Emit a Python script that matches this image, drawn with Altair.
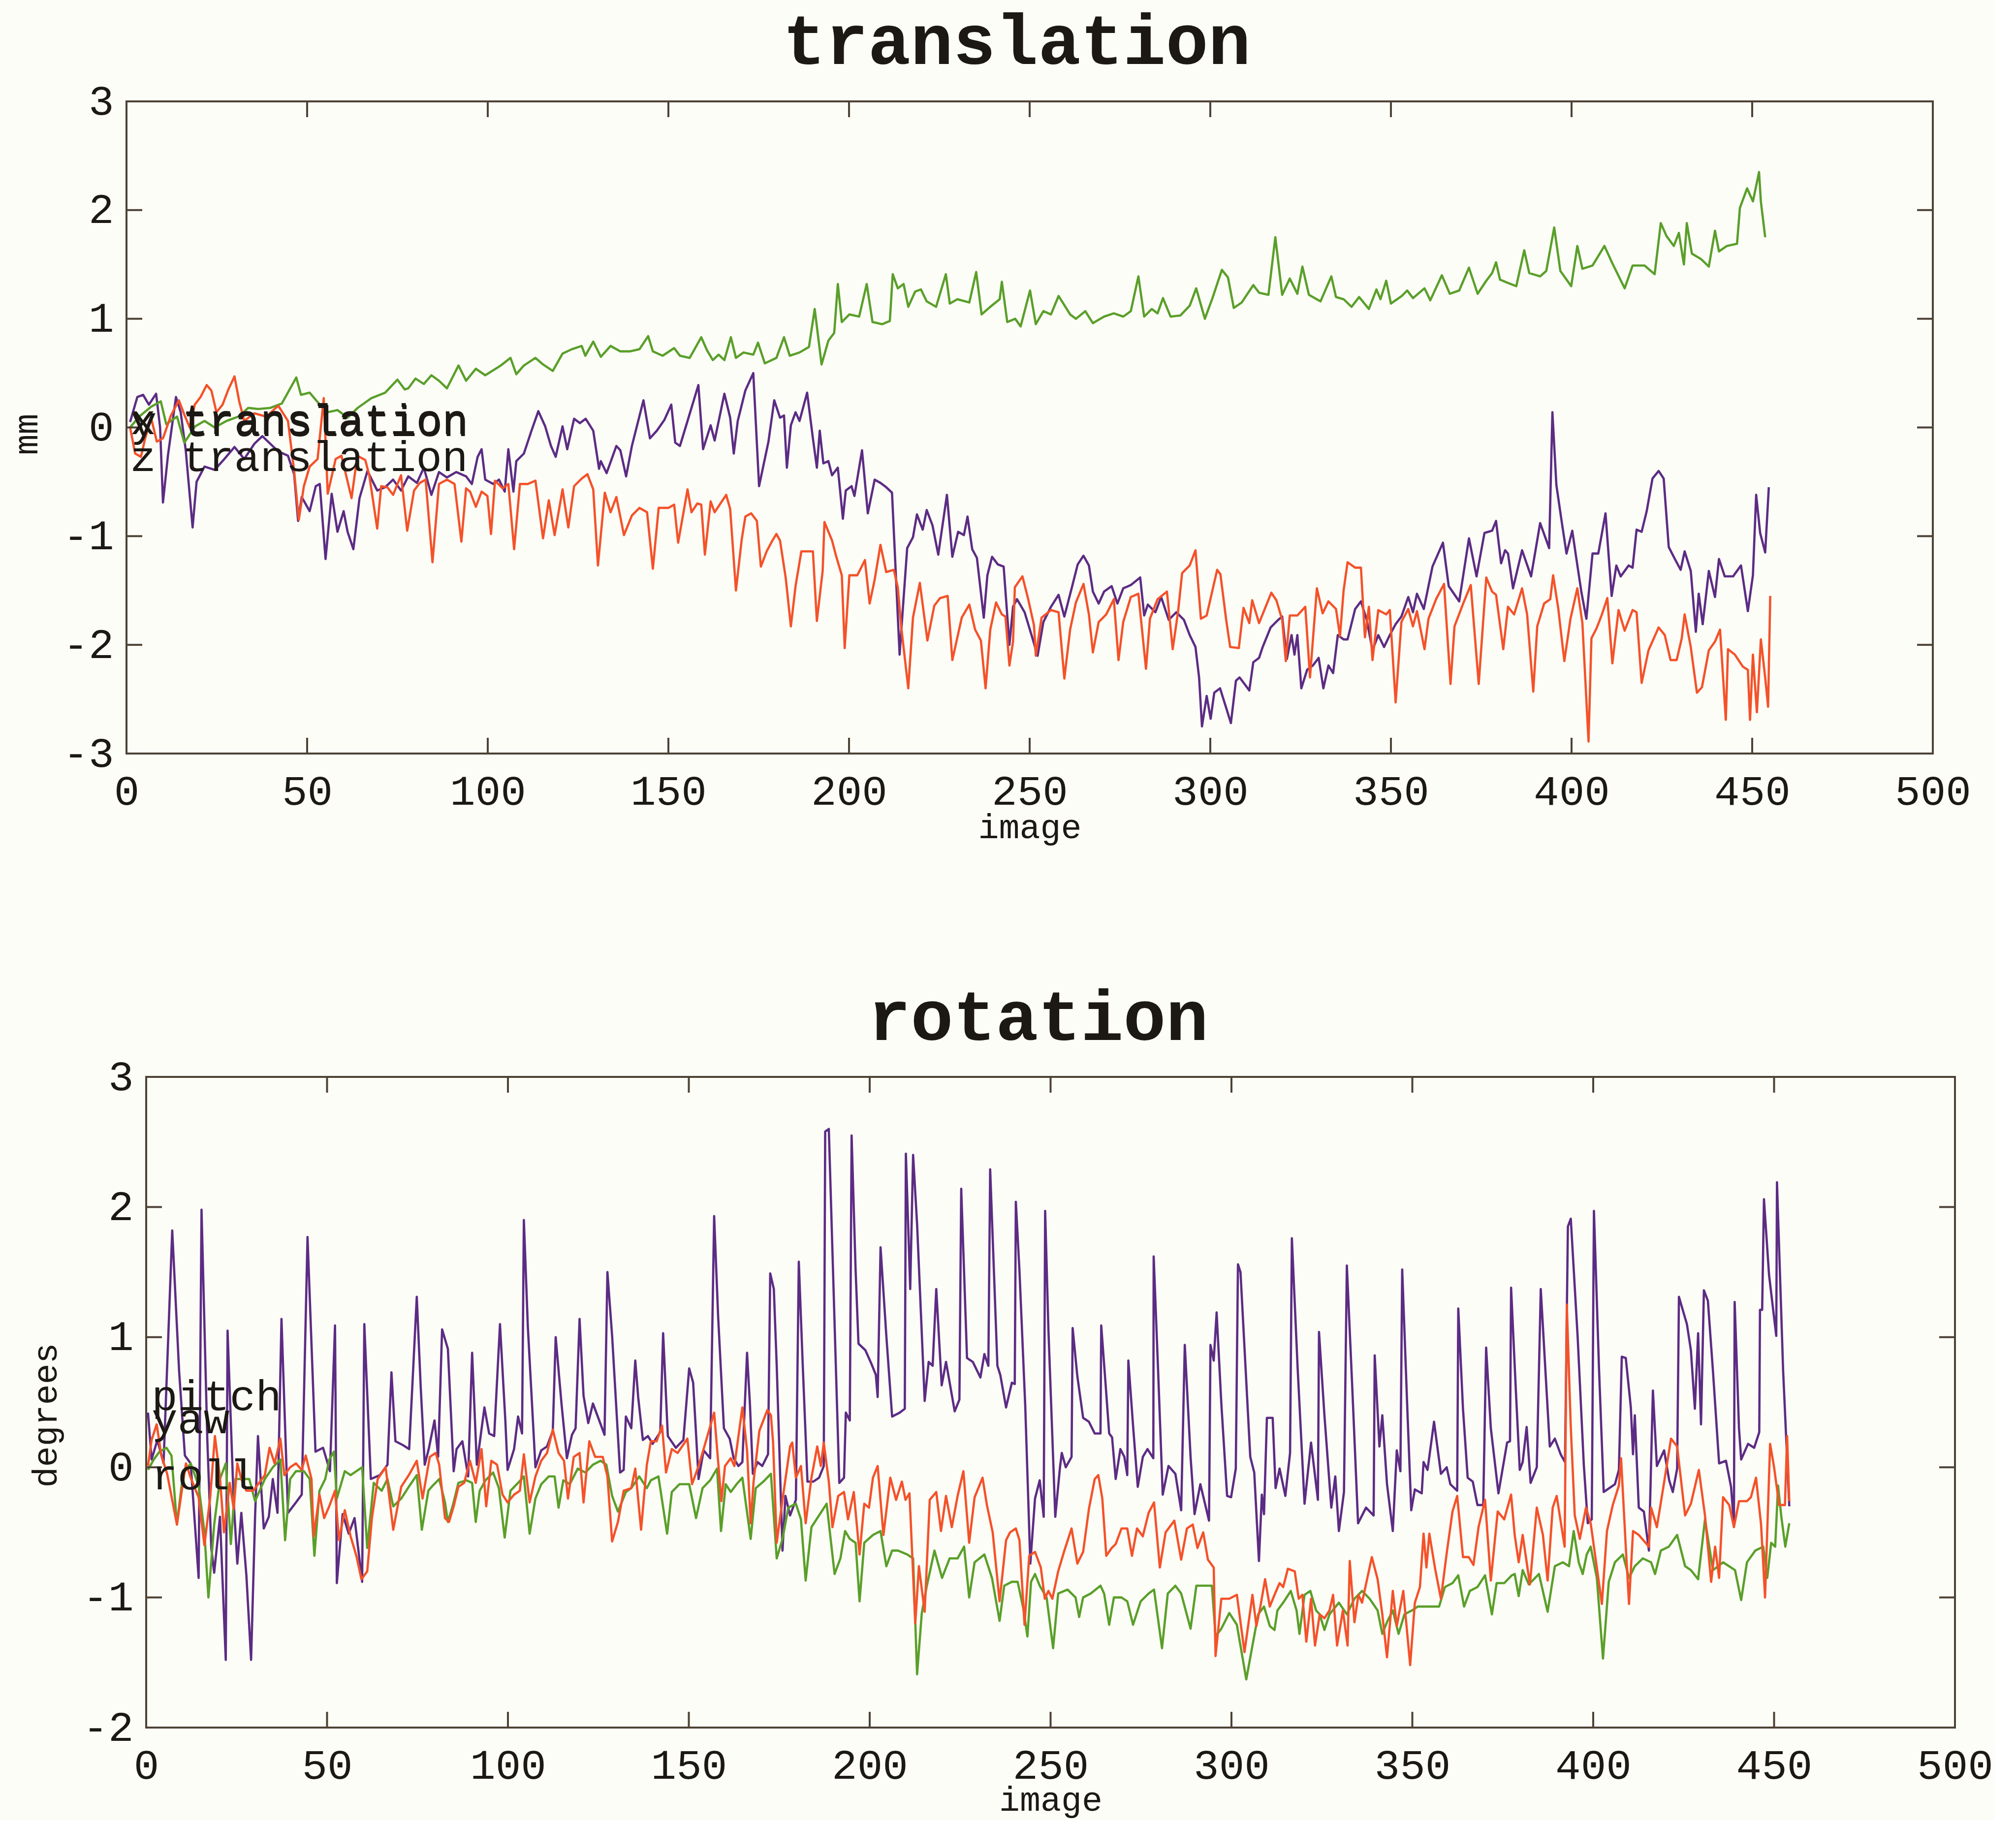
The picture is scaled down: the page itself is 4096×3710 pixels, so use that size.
import altair as alt
import pandas as pd

# ---------------- data ----------------
IMAGE_TICKS = [0, 50, 100, 150, 200, 250, 300, 350, 400, 450, 500]
TRANS_TICKS = [-3, -2, -1, 0, 1, 2, 3]
ROT_TICKS = [-2, -1, 0, 1, 2, 3]

TRANS_NAMES = ["x translation", "y translation", "z translation"]
ROT_NAMES = ["pitch", "yaw", "roll"]

# (image, mm)
X_TRANSLATION = [
(1,0.05),(3,0.28),(4.6,0.30),(6.2,0.21),(8.2,0.31),(9.3,0),(10.1,-0.69),(11.5,-0.25),(13.7,0.28),(15,0.14),(16.4,-0.21),(18.3,-0.92),(19.4,-0.50),(21.6,-0.36),(24.4,-0.39),(27.1,-0.29),(29.9,-0.18),(32.6,-0.29),(35.4,-0.15),(37.6,-0.08),(39.8,-0.15),(42,-0.22),(44.7,-0.26),(46.4,-0.43),(47.5,-0.86),(48.5,-0.64),(50.7,-0.77),(52.4,-0.54),(53.5,-0.52),(55.1,-1.21),(56.8,-0.61),(58.4,-0.96),(60.1,-0.77),(61.2,-0.96),(62.8,-1.12),(64.5,-0.65),(66.7,-0.40),(69.4,-0.58),(71.6,-0.55),(73.8,-0.48),(76,-0.58),
(78,-0.45),(80.4,-0.51),(82.3,-0.37),(84.4,-0.62),(86.5,-0.41),(88.7,-0.46),(91.3,-0.41),(94,-0.45),(95.6,-0.52),(97.2,-0.27),(98.3,-0.20),(99.3,-0.48),(101.5,-0.52),(103.1,-0.48),(104.7,-0.59),(105.7,-0.20),(107.1,-0.59),(107.9,-0.31),(110,-0.24),(112.1,-0.03),(114,0.15),(115.9,0.01),(117.5,-0.17),(118.8,-0.27),(120.7,0.01),(122,-0.20),(123.9,0.08),(125.5,0.04),(127.1,0.08),(129.2,-0.03),(130.8,-0.38),(131.3,-0.31),(132.9,-0.42),(135.6,-0.17),(136.7,-0.21),(138.3,-0.45),(139.9,-0.17),(141.5,0.04),(143.1,0.25),(144.9,-0.10),(146.8,-0.03),(148.9,0.07),(150.8,0.21),(151.9,-0.14),
(153.2,-0.17),(155.3,0.06),(158.3,0.39),(159.6,-0.20),(161.7,0.02),(162.8,-0.12),(165.5,0.31),(167.1,0.09),(168.1,-0.24),(169.2,0.06),(171.3,0.34),(173.5,0.50),(175.1,-0.54),(177.7,-0.13),(179.3,0.25),(180.9,0.09),(182,0.11),(182.8,-0.37),(183.9,0.02),(185.2,0.14),(186.3,0.06),(188.4,0.32),(190,-0.10),(191.1,-0.37),(191.9,-0.03),(192.9,-0.33),(194.3,-0.31),(195.3,-0.44),(196.9,-0.37),(198.3,-0.84),(199.1,-0.58),(200.7,-0.54),(201.5,-0.63),(203.6,-0.21),(205.2,-0.79),(207.1,-0.48),(208.7,-0.51),(210.3,-0.55),(211.9,-0.60),(214,-2.09),(215.3,-1.48),(216.1,-1.11),(217.7,-1.01),(218.8,-0.80),(220.4,-0.94),(221.5,-0.76),(223.1,-0.90),(224.7,-1.17),(227.1,-0.62),
(228.6,-1.19),(230.2,-0.96),(231.8,-0.99),(232.8,-0.82),(234.1,-1.12),(235.4,-1.20),(237.3,-1.75),(238.3,-1.36),(239.6,-1.19),(241.2,-1.26),(242.8,-1.28),(244.4,-2.00),(245.4,-1.65),(246.5,-1.58),(248.6,-1.70),(250.7,-1.93),(252.2,-2.10),(253.8,-1.79),(255.9,-1.65),(258,-1.54),(259.6,-1.74),(261.7,-1.47),(263.3,-1.26),(264.9,-1.18),(266.4,-1.27),(267.5,-1.51),(269.1,-1.62),(270.6,-1.51),(272.7,-1.46),(274.3,-1.62),(275.9,-1.48),(278,-1.45),(280.6,-1.38),(281.7,-1.73),(282.7,-1.63),(284.8,-1.70),(286.4,-1.56),(288.5,-1.77),(290.6,-1.70),(292.7,-1.77),(294.3,-1.91),(295.9,-2.02),(296.9,-2.30),(297.7,-2.75),(299,-2.47),(300.1,-2.68),(301.1,-2.44),(302.7,-2.40),
(304.4,-2.58),(305.7,-2.72),(307.1,-2.33),(308.1,-2.30),(309.7,-2.37),(310.8,-2.42),(311.9,-2.16),(313.5,-2.12),(314.5,-2.02),(316.7,-1.84),(318.8,-1.77),(319.9,-1.74),(321.2,-2.13),(322.5,-1.91),(323.3,-2.09),(324.1,-1.91),(325.2,-2.40),(326.8,-2.23),(328.4,-2.19),(330,-2.12),(331.3,-2.40),(332.7,-2.19),(334,-2.26),(335.3,-1.91),(336.9,-1.95),(338,-1.95),(340.1,-1.67),(341.7,-1.60),(343.3,-1.77),(344.9,-2.05),(346.5,-1.91),(348.1,-2.02),(349.7,-1.91),(351.3,-1.81),(352.9,-1.74),(354.8,-1.56),(356.1,-1.70),(357.2,-1.53),(359.1,-1.67),(361.5,-1.28),(364.4,-1.06),(366,-1.46),(368.9,-1.60),(371.6,-1.02),(373.7,-1.37),(375.9,-0.97),
(378,-0.95),(379.1,-0.86),(380.5,-1.25),(381.6,-1.13),(382.4,-1.16),(383.8,-1.48),(386.3,-1.13),(388.8,-1.37),(391.3,-0.88),(393.8,-1.11),(394.7,0.14),(395.8,-0.53),(397.2,-0.85),(398.6,-1.16),(400.2,-0.95),(401.3,-1.20),(402.7,-1.51),(404.1,-1.76),(405.8,-1.16),(407.4,-1.16),(409.4,-0.79),(411.1,-1.55),(412.4,-1.27),(413.6,-1.37),(415.8,-1.27),(416.9,-1.29),(418,-0.94),(419.4,-0.96),(420.8,-0.77),(422.4,-0.47),(424.1,-0.40),(425.5,-0.47),(426.9,-1.10),(428.6,-1.21),(430.2,-1.31),(431.3,-1.14),(433,-1.32),(434.4,-1.88),(435.2,-1.53),(436.3,-1.81),(438,-1.32),(439.7,-1.56),(440.8,-1.21),(442.4,-1.37),(444.7,-1.37),(446.9,-1.27),(448.8,-1.69),(450.2,-1.36),(451.1,-0.62),(452.2,-0.97),(453.6,-1.15),(454.6,-0.55),
]

Y_TRANSLATION = [
(1,0.0),(3.5,0.1),(6.8,0.19),(9.5,0.24),(11,0.03),(14,0.1),(16,-0.14),(19,0.01),(21.6,0.06),(24.4,0),(27.7,0.06),(31,0.1),(33.7,0.18),(36.5,0.17),(39.8,0.18),(43,0.22),(47,0.46),(48.3,0.3),(50.7,0.32),(53,0.23),(55.7,0.14),(58.4,0.16),(61.2,0.09),(64,0.18),(67.8,0.27),(71.6,0.32),(75,0.44),(77,0.35),
(78,0.36),(80,0.45),(82.3,0.40),(84.4,0.48),(86.5,0.43),(88.7,0.36),(91.9,0.57),(94,0.43),(96.7,0.54),(99.3,0.48),(103.6,0.57),(106.3,0.64),(107.9,0.49),(110,0.57),(113.2,0.64),(115.3,0.58),(118,0.52),(120.7,0.68),(123.3,0.72),(126,0.75),(127,0.66),(129.2,0.79),(131.3,0.65),(134,0.75),(136.7,0.70),(139.3,0.70),(142,0.72),(144.4,0.84),(145.7,0.70),(148.4,0.66),(151.6,0.73),
(153.2,0.66),(155.9,0.64),(159.1,0.83),(160.7,0.71),(162.3,0.62),(163.9,0.67),(165.5,0.62),(167.3,0.83),(168.7,0.64),(170.8,0.69),(173.5,0.67),(174.8,0.78),(176.7,0.59),(179.9,0.64),(182,0.83),(183.6,0.66),(186.3,0.69),(188.9,0.74),(190.5,1.09),(192.4,0.58),(194.3,0.80),(195.9,0.87),(196.9,1.32),(198,0.97),(200.1,1.04),(202.8,1.02),(204.9,1.32),(206.5,0.97),(209.2,0.95),(211.3,0.98),(212.1,1.41),(213.5,1.28),(215.1,1.32),(216.4,1.11),(218.3,1.25),(219.9,1.27),(221.5,1.16),(224.1,1.11),(226.8,1.41),(227.9,1.14),
(230,1.18),(233.3,1.15),(235.2,1.43),(236.7,1.04),(239.1,1.11),(241.7,1.18),(242.3,1.34),(243.8,0.97),(246,1.00),(247.5,0.93),(250.1,1.26),(251.7,0.95),(253.8,1.07),(255.9,1.04),(258,1.21),(261.2,1.04),(262.8,1.00),(265.4,1.07),(267.5,0.96),(270.6,1.02),(273.3,1.05),(275.9,1.02),(278,1.07),(280.1,1.39),(281.7,1.02),(283.8,1.09),(285.4,1.05),(286.9,1.19),(289,1.02),(291.7,1.03),(294.3,1.12),(296.1,1.28),(298.5,1.00),(300.6,1.19),(303.2,1.45),
(304.9,1.38),(306.5,1.10),(308.7,1.15),(311.9,1.31),(313.5,1.24),(316.1,1.22),(318,1.75),(319.9,1.22),(322,1.37),(324.1,1.23),(325.5,1.48),(327.3,1.22),(330.5,1.16),(333.5,1.39),(334.8,1.20),(336.9,1.18),(339.1,1.11),(341.2,1.20),(343.9,1.09),(346,1.27),(347.1,1.18),(348.7,1.35),(350,1.14),(353,1.21),(354.5,1.26),(356.1,1.19),(359.3,1.28),(360.9,1.17),(364.1,1.40),(366.3,1.23),(368.9,1.26),(371.6,1.47),(374,1.23),(376.4,1.35),
(378,1.42),(379.1,1.52),(380.2,1.36),(382.4,1.33),(384.7,1.30),(386.9,1.63),(388.3,1.42),(391.3,1.39),(393,1.44),(395.2,1.84),(396.9,1.44),(399.9,1.30),(401.6,1.67),(403,1.46),(405.8,1.49),(409.1,1.67),(411.3,1.51),(414.7,1.28),(416.9,1.49),(420.2,1.49),(423,1.41),(424.7,1.88),(426.3,1.76),(428.3,1.67),(429.7,1.79),(431.1,1.50),(431.9,1.88),(433.3,1.60),(435.8,1.55),(438,1.48),(439.7,1.81),(440.8,1.62),(443,1.67),(445.8,1.69),(446.6,2.02),(448.6,2.20),(450.2,2.08),(451.9,2.35),(452.4,2.08),(453.6,1.75),
]

Z_TRANSLATION = [
(1,0),(2.4,-0.24),(4,-0.27),(5.1,-0.11),(6.8,0.09),(8.4,-0.13),(10.1,-0.10),(12.3,0.11),(14.5,0.25),(16.1,0.11),(17.5,0),(18.9,0.21),(20.5,0.28),(22.2,0.39),(23.5,0.34),(24.9,0.14),(26.6,0.21),(28.2,0.35),(29.9,0.47),(31.2,0.24),(32.6,0.06),(35.4,0.13),(38.7,0.10),(42,0.20),(44.7,0.06),(46.4,-0.40),(47.7,-0.85),(49.1,-0.54),(50.7,-0.36),(52.9,-0.29),(54.6,0.27),(55.7,-0.61),(57.9,-0.29),(59.5,-0.26),(62.3,-0.65),(63.9,-0.26),(66.1,-0.30),(67.2,-0.44),(69.4,-0.93),(70.5,-0.54),(72.2,-0.55),(73.8,-0.62),(76,-0.44),(77.7,-0.95),
(79.6,-0.58),(81.2,-0.51),(82.8,-0.48),(84.7,-1.24),(86.5,-0.52),(88.7,-0.48),(90.8,-0.52),(92.7,-1.05),(94,-0.56),(95.1,-0.59),(96.7,-0.73),(98.3,-0.59),(99.9,-0.63),(100.9,-0.98),(102,-0.49),(104.1,-0.56),(105.7,-0.52),(107.3,-1.12),(108.9,-0.52),(111.1,-0.52),(113.2,-0.49),(115.3,-1.02),(116.9,-0.67),(118.5,-0.99),(120.7,-0.57),(122.3,-0.92),(123.9,-0.54),(126,-0.47),(127.6,-0.43),(129.2,-0.57),(130.5,-1.27),(132.4,-0.60),(134,-0.78),(135.6,-0.64),(137.7,-0.99),(139.9,-0.81),(142,-0.74),(144.1,-0.78),(145.7,-1.30),(147.3,-0.74),(150,-0.74),(151.6,-0.71),(152.7,-1.06),
(155.3,-0.57),(156.4,-0.78),(158,-0.70),(159.1,-0.71),(160.1,-1.17),(161.7,-0.68),(162.8,-0.78),(166,-0.62),(167.1,-0.75),(168.7,-1.50),(170.3,-1.03),(171.3,-0.82),(172.9,-0.79),(174.5,-0.86),(175.6,-1.28),(177.2,-1.14),(178.8,-1.04),(179.9,-0.98),(180.9,-1.04),(182.5,-1.39),(183.9,-1.83),(185.2,-1.46),(186.8,-1.14),(190,-1.14),(191.1,-1.78),(192.7,-1.32),(193.2,-0.87),(195.3,-1.04),(196.4,-1.18),(198,-1.36),(198.8,-2.03),(200.1,-1.36),(202.3,-1.36),(204.4,-1.22),(205.7,-1.62),(207.1,-1.40),(208.7,-1.08),(210.3,-1.33),(212.4,-1.31),(213.5,-1.47),(214.5,-1.85),(216.4,-2.40),(217.7,-1.75),(219.6,-1.43),(221.7,-1.96),(223.6,-1.64),(225.2,-1.57),(227.3,-1.55),
(228.6,-2.14),(231.2,-1.75),(233.3,-1.63),(234.9,-1.86),(236.5,-1.96),(237.8,-2.40),(239.1,-1.86),(240.7,-1.61),(242.3,-1.72),(243.3,-1.74),(244.4,-2.19),(245.4,-1.97),(245.9,-1.47),(248,-1.37),(249.6,-1.58),(251.2,-1.82),(251.7,-2.10),(253.3,-1.75),(255.9,-1.68),(258,-1.70),(259.6,-2.31),(261.2,-1.86),(262.8,-1.61),(264.9,-1.44),(266.4,-1.72),(267.5,-2.07),(269.1,-1.79),(271.2,-1.72),(273.3,-1.58),(274.6,-2.14),(275.9,-1.79),(278,-1.56),(280.1,-1.53),(282.2,-2.22),(283.3,-1.76),(285.4,-1.58),(288,-1.51),(289.6,-2.04),(291.1,-1.69),(292.2,-1.34),(294.3,-1.27),(295.9,-1.13),(297.4,-1.76),(299,-1.73),(301.9,-1.31),
(302.8,-1.35),(304.4,-1.77),(305.5,-2.02),(307.9,-2.03),(309.2,-1.66),(310.8,-1.80),(311.6,-1.59),(313.5,-1.80),(316.9,-1.52),(318.3,-1.59),(319.9,-1.77),(320.9,-2.15),(322,-1.73),(324.1,-1.73),(326.3,-1.65),(327.6,-2.30),(329.5,-1.48),(331.1,-1.71),(332.7,-1.60),(334.8,-1.67),(335.9,-1.92),(336.9,-1.50),(338,-1.24),(340.1,-1.29),(341.7,-1.29),(342.8,-1.93),(343.9,-1.65),(344.9,-2.14),(346.5,-1.68),(348.7,-1.72),(349.7,-1.68),(351.3,-2.53),(352.9,-1.79),(354.8,-1.67),(356.1,-1.83),(357.2,-1.69),(359.3,-2.04),(360.4,-1.76),(362.5,-1.58),(364.7,-1.44),(366.5,-2.36),(367.6,-1.83),(370,-1.62),(372.1,-1.45),(374.3,-2.36),(376.4,-1.38),
(378,-1.51),(379.1,-1.54),(381.1,-2.04),(382.4,-1.65),(384.1,-1.72),(386.3,-1.48),(387.7,-1.72),(389.4,-2.43),(390.5,-1.83),(392.4,-1.62),(394.1,-1.58),(394.9,-1.36),(396.3,-1.66),(398,-2.15),(399.7,-1.76),(401.6,-1.48),(403,-1.80),(404.7,-2.89),(405.5,-1.94),(406.9,-1.85),(408.3,-1.73),(409.9,-1.57),(411.3,-2.17),(413,-1.68),(414.7,-1.87),(416.9,-1.68),(418,-1.70),(419.4,-2.35),(421.3,-2.05),(424.1,-1.84),(425.8,-1.91),(427.4,-2.14),(429.1,-2.14),(430.5,-1.94),(431.3,-1.72),(433,-2.02),(434.7,-2.44),(436.1,-2.39),(438,-2.05),(439.7,-1.97),(441.1,-1.86),(442.7,-2.69),(443.3,-2.04),(445.2,-2.09),(447.4,-2.20),(448.8,-2.23),(449.4,-2.69),(450.2,-2.09),(451.3,-2.62),(452.4,-1.95),(453.6,-2.30),(454.4,-2.57),(455,-1.55),
]

# (image, degrees)
PITCH = [
(0.5,0.42),(1.5,0.06),(3.1,0.21),(4.8,0.03),(7.2,1.82),(9.1,0.74),(10.7,0.09),(12.3,0.03),(14.5,-0.85),(15.3,1.98),(16.9,0.21),(18,-0.62),(18.8,-0.81),(20.4,-0.38),(22,-1.48),(22.5,1.05),(24.2,-0.27),(25.2,-0.74),(26.3,-0.35),(27.7,-0.83),(29,-1.48),(30.1,-0.38),(30.9,0.24),(32.5,-0.47),(33.9,-0.38),(35,-0.09),(36.3,-0.35),(37.4,1.14),(39.2,-0.35),(41.4,-0.27),(43,-0.21),(44.6,1.77),(46.8,0.12),(48.9,0.15),(50.8,-0.03),(52.2,1.09),(52.7,-0.89),(54.3,-0.36),(56,-0.51),(57.6,-0.39),(59.7,-0.88),(60.3,1.10),(62.1,-0.09),(64.6,-0.06),(66.7,0.02),(67.8,0.73),(68.9,0.20),(71,0.17),(72.7,0.14),(74.8,1.31),(75.9,0.61),(77,0.02),(78.1,0.14),(79.7,0.36),(80.7,0.08),(81.8,1.06),
(83.4,0.91),(85,-0.03),(85.8,0.14),(87.4,0.20),(89,-0.07),(90.1,0.88),(91.4,0.02),(93.5,0.46),(94.8,0.26),(96.2,0.24),(97.8,1.10),(99.3,0.35),(99.9,-0.02),(101.7,0.14),(102.8,0.39),(103.9,0.26),(104.4,1.90),(105.5,1.08),(107.6,0.00),(109.2,0.13),(110.8,0.16),(112.4,0.28),(113.2,1.00),(114.8,0.49),(116.3,0.07),(117.7,0.25),(118.7,0.30),(119.8,1.14),(120.9,0.55),(122.2,0.34),(123.5,0.49),(125.1,0.37),(126.7,0.25),(127.5,1.50),(128.8,1.01),(131,-0.04),(132,-0.02),(132.6,0.39),(134.1,0.30),(135.2,0.82),(136,0.54),(137.3,0.21),(138.7,0.24),(140,0.18),(142.1,0.27),(142.9,1.03),(144.2,0.24),(146.4,0.15),(148.5,0.21),(150.1,0.76),(151.2,0.65),(152.7,-0.09),(154.1,0.13),(155.9,0.07),(157,1.93),(158.1,1.16),
(159.7,0.30),(161.3,0.22),(162.4,0.07),(163.7,0.01),(164.8,0.04),(166.1,0.88),(166.9,0.48),(167.7,-0.05),(169,0.04),(170.3,0.01),(171.9,0.10),(172.5,1.49),(173.5,1.37),(174.3,0.78),(175.9,-0.64),(176.7,-0.22),(178,-0.37),(179.6,-0.25),(180.4,1.58),(181.5,0.78),(182.8,-0.11),(184.4,-0.11),(186,-0.08),(187.3,0.01),(187.7,2.58),(188.7,2.60),(191.6,-0.12),(192.9,-0.08),(193.4,0.42),(194.5,0.36),(195,2.55),(196.1,1.52),(196.9,0.95),(198.8,0.90),(200.4,0.80),(201.7,0.71),(202.2,0.54),(203,1.69),(204.6,1.01),(206.2,0.39),(208.3,0.42),(209.7,0.45),(210,2.41),(211.2,1.37),(212,2.40),(213.1,1.87),(215.2,0.51),(216.3,0.81),(217.4,0.78),(218.4,1.37),(219.9,0.63),(221.1,0.81),(223.5,0.43),(224.8,0.52),(225.3,2.14),(226.9,0.84),(228.5,0.81),(230.6,0.69),(231.7,0.87),(232.8,0.78),(233.3,2.29),(235.3,0.78),
(236.1,0.71),(237.7,0.46),(239.3,0.65),(240.1,0.64),(240.4,2.04),(241.4,1.51),(243,0.47),(244.4,-0.74),(245.7,-0.24),(247,-0.10),(248.1,-0.38),(248.5,1.97),(249.4,1.06),(251.3,-0.38),(252.6,0.00),(253.1,0.11),(254.2,0.00),(255.8,0.08),(256.1,1.07),(257.4,0.70),(259,0.38),(260.6,0.35),(262.2,0.26),(263.8,0.26),(264,1.09),(265.1,0.68),(266.2,0.26),(267,0.23),(268,-0.09),(269.3,0.14),(270.4,0.08),(271.2,-0.06),(271.5,0.82),(272.8,0.32),(274.1,-0.15),(275.5,0.08),(276.8,0.14),(278.4,0.07),(278.5,1.62),(279.7,0.76),(281,-0.21),(282.6,0.01),(284.5,-0.05),(286.1,-0.33),(287.1,0.94),(288.7,0.08),(289.8,-0.36),(291.4,-0.13),(293.8,-0.41),(294.2,0.94),(295.1,0.82),(295.9,1.19),(297.2,0.49),(298.8,-0.22),(299.9,-0.23),(301.2,-0.01),(301.8,1.56),(302.5,1.50),(305.2,0.08),(306.3,-0.04),(307.6,-0.72),(308.4,-0.21),(309,-0.36),(309.8,0.38),
(311.4,0.38),(312.2,-0.16),(313.3,-0.01),(314.9,-0.22),(316.2,0.11),(316.7,1.76),(318.3,0.76),(320.2,-0.28),(322,0.19),(323.9,-0.25),(324.2,1.04),(325.7,0.40),(327.6,-0.31),(328.7,-0.07),(329.7,-0.49),(331.1,-0.19),(331.9,1.55),(333.4,0.61),(335,-0.43),(337.2,-0.31),(339.3,-0.37),(339.6,0.86),(340.9,0.16),(341.7,0.40),(343,-0.13),(344.6,-0.49),(345.7,0.13),(346.7,-0.03),(347.2,1.52),(348.6,0.46),(349.7,-0.33),(350.7,-0.17),(352.6,-0.20),(353.1,0.04),(354.2,-0.02),(356,0.35),(357.9,-0.05),(359.5,0.00),(360.5,-0.13),(362.4,-0.18),(362.7,1.22),(364,0.45),(365.3,-0.08),(366.7,-0.11),(368,-0.29),(369.6,-0.29),(370.4,0.92),(371.7,0.30),(373.8,-0.20),(376.2,0.19),(377,0.20),(377.3,1.38),
(378.6,0.60),(379.7,-0.02),(380.5,0.04),(381.6,0.31),(382.7,-0.12),(384.4,0.00),(385.5,1.37),(386.9,0.69),(388,0.16),(389.4,0.22),(391,0.10),(392.2,0.04),(393,1.85),(393.8,1.91),(395.7,1.00),(397.4,0.02),(398.5,-0.43),(399.6,-0.40),(400.2,1.97),(401.6,0.76),(402.9,-0.19),(406,-0.13),(407.1,-0.02),(407.9,0.85),(409,0.84),(410.4,0.46),(411,0.10),(411.5,0.40),(412.6,-0.31),(414,-0.34),(415.4,-0.64),(416.5,0.59),(417.6,0.01),(419.6,0.13),(421,-0.10),(422,-0.19),(423.2,-0.01),(423.7,1.31),(425.9,1.10),(427,0.90),(428.1,0.45),(429,1.03),(429.8,0.33),(430.6,1.36),(431.7,1.28),(433.1,0.74),(434.8,0.03),(436.7,0.05),(438.1,-0.15),(438.9,-0.44),(439.1,1.27),(440.3,0.30),(440.9,0.06),(442.8,0.18),(444.5,0.15),(445.9,0.27),(446.1,1.21),(446.7,1.21),(447.2,2.06),(448.6,1.48),(450.6,1.01),(450.8,2.19),(452.5,0.74),(454.2,-0.30),
]

YAW = [
(0.5,-0.02),(2.1,0.06),(3.7,0.12),(5.6,0.15),(7,0.09),(8.5,-0.44),(10.2,-0.05),(12.3,0.03),(14.5,-0.14),(16.1,-0.50),(17.2,-1.00),(18.8,-0.44),(20.4,-0.09),(22,0.03),(23.4,-0.59),(24.7,-0.09),(26.3,-0.09),(28.5,-0.09),(30.1,-0.26),(32.8,-0.09),(35,0.00),(37.1,0.06),(38.4,-0.56),(39.8,-0.09),(41.4,-0.03),(43.6,-0.03),(45.2,-0.09),(46.5,-0.68),(47.9,-0.18),(49.5,-0.09),(50.6,0.06),(51.9,0.12),(52.7,-0.24),(54.9,-0.03),(56.5,-0.06),(58.1,-0.03),(59.7,0.00),(61.1,-0.62),(62.9,-0.12),(65.1,-0.18),(66.7,-0.09),(68.3,-0.30),(70.5,-0.24),(72.6,-0.15),(74.8,-0.06),(76.2,-0.48),(78,-0.18),
(78.9,-0.15),(81,-0.09),(82.6,-0.27),(83.4,-0.42),(84.7,-0.30),(86.3,-0.12),(88.5,-0.10),(90.1,-0.12),(91.1,-0.42),(92.2,-0.18),(93.8,-0.10),(95.9,-0.04),(97.5,-0.16),(99.1,-0.54),(100.7,-0.18),(102.8,-0.12),(104.4,-0.07),(106,-0.51),(107.6,-0.24),(109.2,-0.13),(111.3,-0.07),(112.9,-0.07),(114,-0.31),(115.3,-0.10),(117.1,-0.13),(119.3,-0.01),(121.4,-0.04),(123.5,0.02),(125.6,0.05),(127.2,0.02),(128.8,-0.22),(130.4,-0.34),(132.6,-0.19),(134.1,-0.16),(136.3,-0.07),(138.4,-0.16),(139.5,-0.10),(141.6,-0.07),(144,-0.51),(145.3,-0.19),(147.4,-0.13),(150.1,-0.13),(152,-0.39),(153.8,-0.16),(155.9,-0.10),(157.8,-0.01),(158.9,-0.49),
(160.2,-0.13),(161.6,-0.19),(163.2,-0.13),(164.8,-0.08),(167.1,-0.55),(168.5,-0.16),(170.6,-0.11),(172.7,-0.05),(174.3,-0.70),(175.9,-0.55),(177.5,-0.31),(179.6,-0.28),(181,-0.40),(182.3,-0.87),(183.9,-0.46),(186,-0.37),(188.1,-0.28),(190.3,-0.82),(191.9,-0.70),(193.2,-0.49),(194.5,-0.55),(196.1,-0.58),(197.2,-1.03),(198.5,-0.58),(200.9,-0.52),(203,-0.49),(204.6,-0.76),(206.2,-0.64),(207.8,-0.64),(210.4,-0.67),(212,-0.70),(213.1,-1.59),(214.4,-1.12),(215.8,-0.91),(217.9,-0.64),(220,-0.85),(222.1,-0.70),(224.3,-0.70),(226.1,-0.61),(227.5,-1.00),(229,-0.73),(231.7,-0.67),(233.8,-0.85),(235.9,-1.18),
(237.2,-0.91),(239.3,-0.88),(240.9,-0.88),(242.5,-1.09),(243.6,-1.30),(244.6,-0.88),(245.7,-0.82),(247,-0.91),(248.9,-1.00),(250.7,-1.39),(252.1,-0.97),(254.7,-0.94),(256.9,-1.00),(257.9,-1.15),(259,-1.00),(261.1,-0.97),(263.8,-0.91),(264.8,-0.97),(266.2,-1.21),(267.5,-1.00),(269.6,-1.00),(271.2,-1.03),(272.8,-1.21),(274.9,-1.03),(277.1,-0.97),(278.6,-0.94),(280.8,-1.39),(282.4,-0.97),(284.5,-0.91),(286.1,-0.97),(288.7,-1.24),(290.3,-0.91),(292.5,-0.91),(294.6,-0.91),(295.6,-1.30),(297.2,-1.24),(299.4,-1.12),(301.5,-1.21),(304.1,-1.63),(305.8,-1.37),(307.4,-1.13),(309,-1.07),
(310.6,-1.22),(311.9,-1.25),(312.7,-1.10),(314.3,-1.04),(316.4,-0.95),(318,-1.10),(318.8,-1.28),(320.2,-0.98),(321.8,-0.95),(323.4,-1.10),(324.4,-1.13),(325.7,-1.25),(327.1,-1.13),(329.7,-1.04),(331.9,-1.13),(334,-1.01),(336.1,-0.95),(338.2,-1.01),(340.4,-1.10),(341.7,-1.28),(343,-1.19),(344.6,-1.10),(346.2,-1.28),(347.8,-1.13),(349.9,-1.10),(351.5,-1.07),(353.1,-1.07),(355.2,-1.07),(357.4,-1.07),(359,-0.92),(361.1,-0.89),(362.7,-0.83),(364.3,-1.07),(365.9,-0.95),(368,-0.92),(370.1,-0.83),(372,-1.13),(373.3,-0.89),(375.4,-0.89),(377.5,-0.83),
(378.3,-0.82),(379.4,-0.99),(380.5,-0.79),(382.2,-0.90),(385,-0.82),(387.4,-1.11),(389.4,-0.76),(391.6,-0.73),(393.3,-0.76),(394.6,-0.49),(396,-0.73),(397.1,-0.82),(398.2,-0.67),(399.3,-0.61),(401,-0.85),(402.7,-1.47),(404.3,-0.88),(406,-0.73),(408.2,-0.67),(409.9,-0.85),(411.5,-0.76),(413.7,-0.70),(416,-0.73),(417.1,-0.82),(418.7,-0.64),(420.9,-0.61),(423.2,-0.52),(425.4,-0.76),(427,-0.79),(429,-0.86),(430.9,-0.40),(433.1,-0.79),(435.9,-0.73),(439.2,-0.79),(440.9,-1.02),(442.5,-0.73),(444.8,-0.64),(447,-0.61),(448.1,-0.85),(449.2,-0.58),(450.3,-0.61),(451.1,-0.14),(452,-0.38),(453.1,-0.61),(454.2,-0.43),
]

ROLL = [
(0.5,0.01),(1.5,0.21),(2.9,0.33),(4.2,0.09),(5.8,-0.05),(8.5,-0.44),(9.9,-0.17),(11,0.03),(12.3,-0.08),(14.5,-0.23),(16.1,-0.60),(17.7,-0.23),(19,0.24),(20.4,-0.08),(21.5,-0.50),(23.1,-0.12),(24.2,-0.32),(25.2,0.03),(26.3,-0.09),(27.7,-0.18),(29.6,-0.18),(31.2,-0.12),(32.8,-0.06),(34.1,0.15),(35.5,0.03),(37.1,0.22),(38.2,-0.06),(39.8,0.00),(41.4,0.03),(43,-0.02),(44.1,0.09),(45.7,-0.09),(46.3,-0.53),(47.9,-0.21),(49.2,-0.39),(50.6,-0.30),(52.2,-0.18),(53.3,-0.56),(54.9,-0.33),(56.5,-0.53),(58.1,-0.68),(59.5,-0.86),(61.1,-0.80),(62.4,-0.39),(64,-0.09),(66.2,0.00),(68.3,-0.48),(70.5,-0.15),(72.6,-0.06),(74.8,0.05),(76.4,-0.24),
(78.4,0.08),(80,0.11),(81,0.02),(82.6,-0.39),(83.7,-0.42),(85,-0.30),(86.3,-0.15),(87.9,-0.12),(89.5,0.05),(91.1,-0.12),(92.7,0.14),(94,-0.30),(95.4,0.05),(97,0.02),(98.5,-0.21),(99.9,-0.27),(101.7,-0.21),(103.3,-0.18),(104.4,0.10),(106,-0.27),(107.6,-0.07),(109.2,0.05),(110.8,0.11),(112.4,0.29),(114,0.11),(115.5,0.05),(116.6,-0.24),(118.2,0.08),(119.8,0.11),(120.9,-0.27),(122.5,0.20),(124.1,0.08),(126.2,0.08),(127.5,-0.07),(128.8,-0.57),(130.4,-0.42),(132,-0.18),(134.1,-0.16),(135.2,-0.01),(136.8,-0.48),(138.4,0.02),(139.5,0.20),(141.1,0.20),(142.6,0.32),(143.7,-0.04),(145.3,0.14),(146.9,0.11),(149.6,0.22),(150.9,-0.13),(152.7,0.01),(154.3,0.16),(157,0.42),(159,-0.26),
(160,0.01),(161.6,0.07),(162.6,0.01),(164.8,0.46),(166.1,0.13),(167.1,-0.43),(167.9,-0.11),(169.5,0.28),(171.7,0.44),(172.7,0.40),(173.3,0.19),(174.3,-0.58),(175.9,-0.25),(178,0.16),(178.6,0.19),(179.6,-0.08),(181,0.01),(182.3,-0.43),(183.9,-0.08),(185.5,0.16),(186.5,0.01),(187.3,0.19),(188.7,-0.11),(189.7,-0.46),(191.3,-0.22),(192.9,-0.19),(194,-0.40),(195.6,-0.19),(197.2,-0.67),(198.5,-0.28),(199.8,-0.31),(200.9,-0.08),(202.2,0.01),(203.8,-0.52),(205.7,-0.08),(207.3,-0.25),(208.9,-0.11),(209.9,-0.25),(211,-0.20),(212.6,-1.20),(213.6,-0.76),(215.2,-1.11),(216.6,-0.25),(218.4,-0.19),(219.7,-0.49),(221.1,-0.22),(222.7,-0.46),(224.3,-0.22),(225.9,-0.03),(227.5,-0.58),(229,-0.23),(231.2,-0.08),
(232.4,-0.29),(234,-0.50),(235.9,-1.03),(237.7,-0.56),(238.8,-0.50),(240.4,-0.47),(241.4,-0.56),(242.8,-1.21),(244.1,-0.68),(245.7,-0.65),(247.3,-0.77),(248.4,-1.01),(249.4,-0.95),(250.5,-1.01),(252.1,-0.80),(253.7,-0.65),(255.8,-0.47),(257.4,-0.74),(259,-0.65),(260.6,-0.32),(262.2,-0.09),(263.2,-0.06),(264.3,-0.24),(265.4,-0.68),(266.9,-0.62),(268,-0.59),(269.6,-0.47),(271.2,-0.47),(272.5,-0.68),(273.9,-0.47),(275.5,-0.53),(277.1,-0.35),(278.6,-0.27),(280.2,-0.77),(281.8,-0.50),(284.2,-0.41),(286.1,-0.71),(287.7,-0.47),(289.3,-0.44),(290.6,-0.62),(292.2,-0.50),(293.5,-0.71),(295.1,-0.77),(295.6,-1.45),(297.2,-1.01),(299.4,-1.01),(301.5,-0.98),(303.6,-1.42),
(305.8,-0.98),(306.9,-1.22),(308,-1.07),(309.3,-0.86),(310.6,-1.07),(311.9,-0.98),(313.3,-0.89),(314.3,-0.92),(315.6,-0.78),(317.5,-0.80),(318.6,-1.01),(319.6,-0.98),(320.7,-1.34),(322,-1.01),(323.1,-1.37),(324.4,-1.13),(325.7,-1.16),(327.1,-1.10),(328.1,-0.98),(329.2,-1.37),(330.8,-1.10),(332.1,-1.37),(332.7,-0.72),(334,-1.19),(335.1,-0.98),(336.1,-1.04),(338.8,-0.69),(340.4,-0.86),(341.7,-1.13),(343,-1.46),(344.6,-0.95),(345.7,-1.22),(347.5,-0.95),(349.4,-1.52),(350.7,-1.04),(352.1,-0.92),(353.1,-0.51),(353.9,-0.77),(354.7,-0.51),(356.3,-0.78),(357.9,-1.01),(359.5,-0.66),(361.1,-0.34),(362.4,-0.22),(364,-0.69),(365.6,-0.69),(366.9,-0.75),(368.3,-0.46),(370.1,-0.25),(371.7,-0.87),(373.6,-0.34),(375.4,-0.40),(377.3,-0.21),
(378.3,-0.52),(379.4,-0.73),(380.5,-0.52),(382.5,-0.90),(384.4,-0.31),(386.1,-0.52),(387.4,-0.87),(388.8,-0.31),(389.9,-0.22),(392.1,-0.61),(392.7,1.25),(393.8,0.31),(394.9,-0.37),(396.3,-0.55),(398,-0.31),(399.3,-0.43),(402.4,-1.05),(403.8,-0.49),(405.4,-0.29),(407.1,-0.14),(407.7,0.07),(409,-0.61),(409.9,-1.05),(411,-0.49),(412.6,-0.52),(415.4,-0.61),(416,-0.31),(417.6,-0.46),(419.8,-0.08),(421.5,0.22),(423.2,0.16),(425.4,-0.37),(427,-0.28),(429.2,-0.02),(430.9,-0.37),(432.6,-0.88),(433.7,-0.61),(434.8,-0.85),(435.9,-0.23),(437.6,-0.29),(438.9,-0.46),(440.3,-0.26),(442.5,-0.26),(443.6,-0.23),(445,-0.08),(446.4,-0.44),(447.5,-1.00),(448.9,0.18),(450,0.00),(451.4,-0.29),(453,-0.29),(453.6,0.24),(454.2,-0.26),
]

# legend texts drawn inside the plots: (text, image, value at baseline)
TRANS_LABELS = [("x translation", 1.0, -0.06), ("y translation", 1.2, -0.08), ("z translation", 1.0, -0.40)]
ROT_LABELS = [("pitch", 1.5, 0.44), ("yaw", 1.5, 0.26), ("roll", 1.5, -0.17)]

# ---------------- styling ----------------
FONT = "Liberation Mono"
COLORS = ["#5c2c84", "#5a9f2a", "#f4522a"]
FRAME = "#4d4236"
INK = "#1c1915"
BG = "#fdfdf7"
TICK = 32

W1, H1 = 3670, 1325
W2, H2 = 3675, 1322
SHIFT = 40
GAP = 657


def lines_frame(series):
    rows = []
    for name, pairs in series:
        for k, (x, y) in enumerate(pairs):
            rows.append({"image": x, "value": y, "series": name, "k": k})
    return pd.DataFrame(rows)


def panel(series, names, labels, ydom, yticks, ytitle, title, W, H, title_dx,
          title_lift, xtitle_y, ytitle_x, ytitle_y):
    x_enc = alt.X(
        "image:Q",
        scale=alt.Scale(domain=[0, 500], nice=False, zero=False),
        axis=alt.Axis(values=IMAGE_TICKS, title="image", labelExpr="'' + datum.value",
                      labelFont=FONT, labelFontSize=86, labelColor=INK, labelPadding=35,
                      labelFlush=False, labelOverlap=False, ticks=False, tickSize=0,
                      domain=False, grid=False, titleFont=FONT, titleFontSize=70,
                      titleFontWeight="normal", titleColor=INK, titleY=xtitle_y,
                      titleBaseline="alphabetic"),
    )
    y_enc = alt.Y(
        "value:Q",
        scale=alt.Scale(domain=ydom, nice=False, zero=False),
        axis=alt.Axis(values=yticks, title=ytitle, labelExpr="'' + datum.value",
                      labelFont=FONT, labelFontSize=86, labelColor=INK, labelPadding=26,
                      labelOverlap=False, labelFlush=False, ticks=False, tickSize=0,
                      domain=False, grid=False, titleFont=FONT, titleFontSize=70,
                      titleFontWeight="normal", titleColor=INK, titleAngle=270,
                      titleAlign="center", titleBaseline="middle",
                      titleX=ytitle_x, titleY=ytitle_y),
    )
    data = lines_frame(series)
    lines = alt.Chart(data).mark_line(strokeWidth=4.6, strokeJoin="round", clip=True).encode(
        x=x_enc, y=y_enc,
        color=alt.Color("series:N", scale=alt.Scale(domain=names, range=COLORS), legend=None),
        order=alt.Order("k:Q"),
    )
    xt = pd.DataFrame({"image": IMAGE_TICKS})
    yt = pd.DataFrame({"value": yticks})
    rule = dict(color=FRAME, strokeWidth=4)
    tb = alt.Chart(xt).mark_rule(**rule).encode(x=x_enc, y=alt.value(H), y2=alt.value(H - TICK))
    tt = alt.Chart(xt).mark_rule(**rule).encode(x=x_enc, y=alt.value(0), y2=alt.value(TICK))
    tl = alt.Chart(yt).mark_rule(**rule).encode(y=y_enc, x=alt.value(0), x2=alt.value(TICK))
    tr = alt.Chart(yt).mark_rule(**rule).encode(y=y_enc, x=alt.value(W), x2=alt.value(W - TICK))
    lab = pd.DataFrame(labels, columns=["label", "image", "value"])
    text = alt.Chart(lab).mark_text(font=FONT, fontSize=88, align="left",
                                    baseline="alphabetic", color=INK).encode(
        x=x_enc, y=y_enc, text="label:N")
    head = alt.Chart(pd.DataFrame({"t": [title]})).mark_text(
        font=FONT, fontSize=144, fontWeight="bold", align="center",
        baseline="alphabetic", color=INK).encode(
        x=alt.value(W / 2 + title_dx), y=alt.value(-title_lift), text="t:N")
    return alt.layer(lines, tb, tt, tl, tr, text, head).properties(width=W, height=H)


top = panel([(TRANS_NAMES[0], X_TRANSLATION), (TRANS_NAMES[1], Y_TRANSLATION),
             (TRANS_NAMES[2], Z_TRANSLATION)],
            TRANS_NAMES, TRANS_LABELS, [-3, 3], TRANS_TICKS, "mm", "translation",
            W1, H1, -26, 76, 171, -203, 676)

bottom = panel([(ROT_NAMES[0], PITCH), (ROT_NAMES[1], YAW), (ROT_NAMES[2], ROLL)],
               ROT_NAMES, ROT_LABELS, [-2, 3], ROT_TICKS, "degrees", "rotation",
               W2, H2, -25, 75, 168, -204, 687)

spacer = alt.Chart(pd.DataFrame({"image": [0], "value": [0]})).mark_point(opacity=0).encode(
    x=alt.X("image:Q", axis=None), y=alt.Y("value:Q", axis=None)
).properties(width=SHIFT, height=20, view=alt.ViewBackground(stroke=None))

bottom_row = alt.hconcat(spacer, bottom, spacing=0, bounds="flush")

chart = alt.vconcat(top, bottom_row, spacing=GAP, bounds="flush").properties(
    padding={"left": 17, "top": 13, "right": 0, "bottom": 4},
    background=BG,
).configure_view(stroke=FRAME, strokeWidth=4)

chart.save("out.html", embed_options={"renderer": "svg", "actions": False})
